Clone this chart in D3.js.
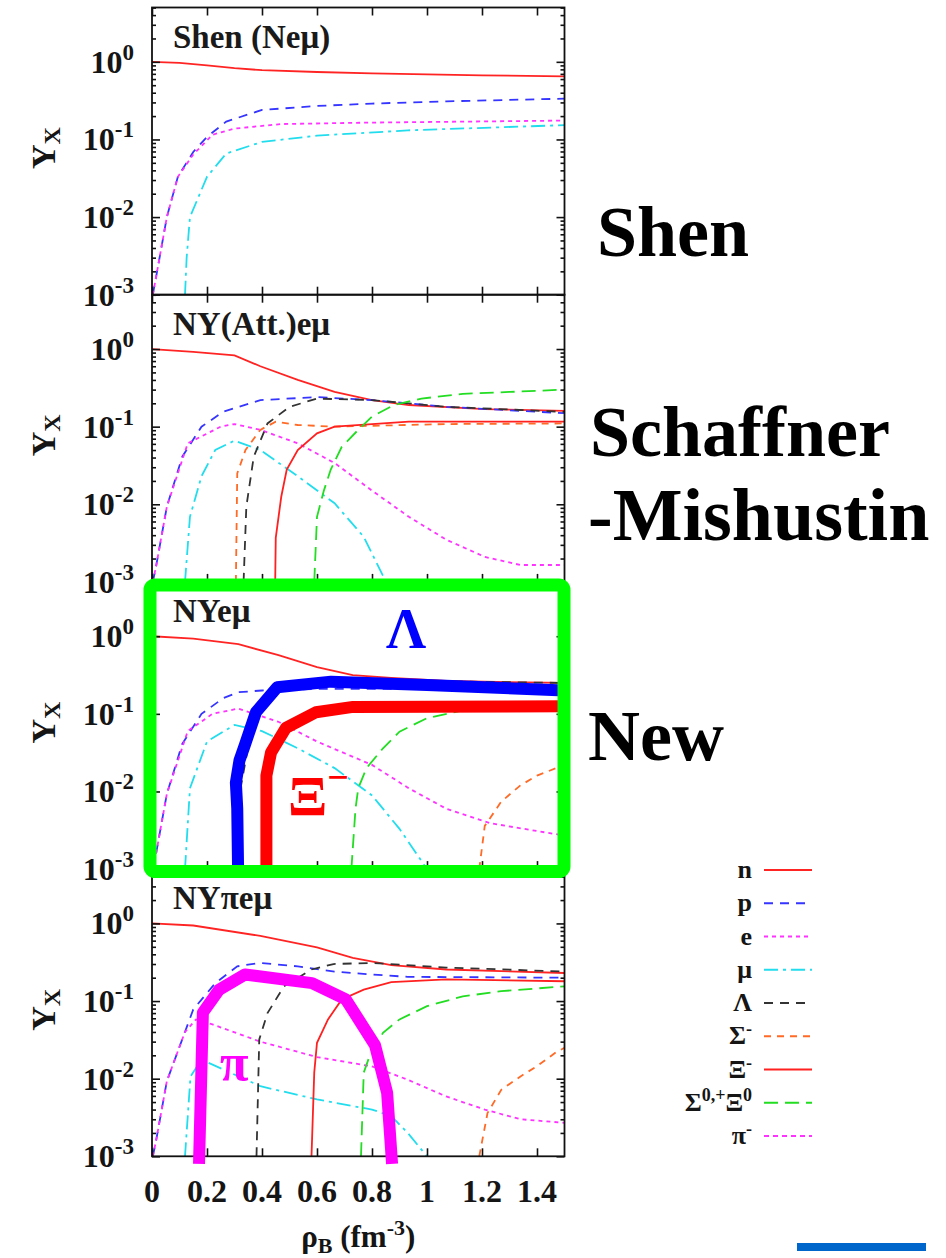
<!DOCTYPE html>
<html><head><meta charset="utf-8">
<script src="https://cdn.jsdelivr.net/npm/d3@7"></script>
<style>
html,body{margin:0;padding:0;background:#fff;}
svg{display:block;font-family:"Liberation Serif","Times New Roman",serif;font-weight:bold;}
</style></head>
<body><svg id="chart" width="946" height="1258"></svg>
<script>
// ---------- data ----------
const xTicks = [0, 0.2, 0.4, 0.6, 0.8, 1, 1.2, 1.4];
const xTickLabels = ["0", "0.2", "0.4", "0.6", "0.8", "1", "1.2", "1.4"];
const yTickExps = [0, -1, -2, -3];
const panelTitles = ["Shen (Neμ)", "NY(Att.)eμ", "NYeμ", "NYπeμ"];
const sideLabels = ["Shen", "Schaffner", "-Mishustin", "New"];
const species = ["n", "p", "e", "μ", "Λ", "Σ-", "Ξ-", "Ξ0", "π-"];

// Panel 1: Shen (Neμ)   pairs [rho_B, Y]
const shen_n  = [[0,1.0],[0.1,0.97],[0.2,0.9],[0.3,0.83],[0.4,0.78],[0.6,0.74],[0.8,0.71],[1.0,0.69],[1.2,0.67],[1.5,0.65]];
const shen_p  = [[0.003,0.001],[0.015,0.0017],[0.054,0.01],[0.094,0.033],[0.15,0.069],[0.2,0.108],[0.27,0.17],[0.4,0.24],[0.6,0.27],[0.8,0.29],[1.07,0.31],[1.5,0.335]];
const shen_e  = [[0.003,0.001],[0.015,0.0017],[0.054,0.01],[0.094,0.033],[0.15,0.064],[0.22,0.115],[0.3,0.138],[0.47,0.158],[0.8,0.165],[1.5,0.175]];
const shen_mu = [[0.12,0.001],[0.126,0.003],[0.138,0.01],[0.2,0.033],[0.27,0.066],[0.4,0.093],[0.6,0.112],[0.93,0.131],[1.5,0.153]];

// Panel 2: NY(Att.)eμ
const att_n   = [[0,1.0],[0.15,0.92],[0.3,0.83],[0.394,0.6],[0.53,0.4],[0.664,0.28],[0.8,0.22],[0.934,0.19],[1.21,0.168],[1.5,0.16]];
const att_p   = [[0.003,0.001],[0.015,0.0016],[0.054,0.0093],[0.11,0.041],[0.18,0.1],[0.26,0.156],[0.394,0.22],[0.6,0.24],[0.8,0.22],[1.07,0.18],[1.5,0.149]];
const att_e   = [[0.003,0.001],[0.015,0.0016],[0.054,0.0093],[0.13,0.061],[0.25,0.1],[0.3,0.108],[0.394,0.091],[0.53,0.061],[0.664,0.034],[0.8,0.015],[0.934,0.0069],[1.07,0.0035],[1.21,0.0021],[1.34,0.00165],[1.5,0.00165]];
const att_mu  = [[0.12,0.001],[0.138,0.0069],[0.18,0.023],[0.23,0.05],[0.3,0.066],[0.394,0.05],[0.53,0.023],[0.664,0.0103],[0.77,0.0038],[0.84,0.0012],[0.85,0.001]];
const att_lam = [[0.333,0.001],[0.343,0.0093],[0.37,0.041],[0.42,0.11],[0.5,0.18],[0.6,0.23],[0.8,0.22],[1.07,0.18],[1.5,0.155]];
const att_sig = [[0.305,0.001],[0.31,0.025],[0.34,0.05],[0.394,0.091],[0.45,0.116],[0.53,0.105],[0.664,0.1],[1.07,0.108],[1.5,0.11]];
const att_xim = [[0.448,0.001],[0.45,0.0037],[0.47,0.0125],[0.49,0.028],[0.53,0.05],[0.6,0.082],[0.664,0.1],[0.8,0.108],[0.934,0.116],[1.5,0.116]];
const att_xi0 = [[0.59,0.001],[0.6,0.0069],[0.625,0.015],[0.65,0.028],[0.69,0.055],[0.75,0.091],[0.8,0.135],[0.88,0.19],[0.98,0.23],[1.13,0.265],[1.3,0.28],[1.5,0.3]];

// Panel 3: NYeμ (new)
const new_n   = [[0,1.0],[0.15,0.93],[0.314,0.79],[0.46,0.57],[0.6,0.4],[0.73,0.316],[0.87,0.29],[1.07,0.265],[1.5,0.25]];
const new_p   = [[0.003,0.001],[0.015,0.0016],[0.054,0.0093],[0.11,0.041],[0.18,0.1],[0.26,0.16],[0.314,0.19],[0.4,0.2],[0.6,0.21],[1.0,0.21],[1.5,0.2]];
const new_e   = [[0.003,0.001],[0.015,0.0016],[0.054,0.0093],[0.13,0.06],[0.22,0.1],[0.314,0.117],[0.46,0.079],[0.6,0.044],[0.8,0.022],[0.934,0.011],[1.07,0.006],[1.23,0.0039],[1.5,0.0027]];
const new_mu  = [[0.12,0.001],[0.138,0.011],[0.2,0.044],[0.3,0.072],[0.4,0.06],[0.53,0.036],[0.664,0.02],[0.8,0.0089],[0.9,0.0033],[1.0,0.001]];
const new_lam = [[0.31,0.001],[0.32,0.01],[0.36,0.06],[0.42,0.18],[0.55,0.26],[0.8,0.27],[1.5,0.25]];
const new_xim = [[0.416,0.001],[0.42,0.016],[0.44,0.032],[0.49,0.066],[0.6,0.105],[0.73,0.12],[1.5,0.123]];
const new_xi0 = [[0.725,0.001],[0.74,0.006],[0.75,0.011],[0.78,0.02],[0.84,0.036],[0.9,0.059],[1.0,0.088],[1.16,0.117],[1.3,0.13],[1.5,0.14]];
const new_sig = [[1.19,0.001],[1.21,0.0036],[1.27,0.0074],[1.34,0.012],[1.4,0.016],[1.47,0.02],[1.5,0.022]];
// highlighted (thick) curves in panel 3
const hl_lam  = [[0.313,0.001],[0.31,0.006],[0.305,0.013],[0.318,0.025],[0.338,0.04],[0.378,0.105],[0.455,0.22],[0.651,0.26],[1.0,0.235],[1.5,0.2]];
const hl_xim  = [[0.416,0.001],[0.416,0.016],[0.433,0.032],[0.487,0.066],[0.596,0.105],[0.731,0.123],[1.5,0.125]];

// Panel 4: NYπeμ
const pi_n    = [[0,1.0],[0.15,0.94],[0.394,0.69],[0.6,0.49],[0.73,0.36],[0.87,0.29],[1.07,0.255],[1.5,0.23]];
const pi_p    = [[0.003,0.001],[0.015,0.0016],[0.054,0.0093],[0.15,0.078],[0.23,0.17],[0.31,0.28],[0.39,0.31],[0.53,0.28],[0.664,0.24],[0.8,0.22],[0.93,0.205],[1.5,0.2]];
const pi_e    = [[0.003,0.001],[0.015,0.0016],[0.054,0.0093],[0.12,0.04],[0.16,0.058],[0.22,0.05],[0.394,0.03],[0.6,0.019],[0.8,0.0144],[0.93,0.0097],[1.07,0.0059],[1.21,0.004],[1.34,0.003],[1.5,0.0027]];
const pi_mu   = [[0.12,0.001],[0.14,0.0107],[0.18,0.0176],[0.394,0.008],[0.6,0.0054],[0.8,0.004],[0.87,0.0033],[0.93,0.002],[1.0,0.001]];
const pi_lam  = [[0.38,0.001],[0.39,0.032],[0.42,0.07],[0.48,0.155],[0.58,0.255],[0.66,0.3],[0.8,0.31],[1.07,0.27],[1.5,0.24]];
const pi_xim  = [[0.58,0.001],[0.59,0.012],[0.6,0.029],[0.64,0.058],[0.69,0.105],[0.77,0.14],[0.87,0.175],[1.07,0.19],[1.5,0.18]];
const pi_xi0  = [[0.76,0.001],[0.77,0.012],[0.79,0.019],[0.84,0.039],[0.9,0.058],[1.0,0.086],[1.13,0.115],[1.27,0.134],[1.5,0.155]];
const pi_sig  = [[1.19,0.001],[1.22,0.0036],[1.27,0.0072],[1.34,0.0107],[1.4,0.0145],[1.47,0.022],[1.5,0.025]];
// highlighted (thick) pion curve in panel 4
const hl_pi   = [[0.171,0.0008],[0.185,0.071],[0.244,0.14],[0.338,0.22],[0.582,0.17],[0.705,0.105],[0.811,0.027],[0.855,0.0066],[0.873,0.0008]];

// ---------- styles ----------
const styleOf = {
  "n":  {c:"#ff2424", d:null},
  "p":  {c:"#3535ff", d:"9,7"},
  "e":  {c:"#ff33ff", d:"4,4"},
  "μ":  {c:"#22dded", d:"14,5,3,5"},
  "Λ":  {c:"#333333", d:"9,7"},
  "Σ-": {c:"#ff6a26", d:"7,6"},
  "Ξ-": {c:"#ff2020", d:null},
  "Ξ0": {c:"#22dd22", d:"14,7"},
  "π-": {c:"#ff33ff", d:"5,4"}
};

const panels = [
  {series:{"n":shen_n,"p":shen_p,"e":shen_e,"μ":shen_mu}},
  {series:{"n":att_n,"p":att_p,"e":att_e,"μ":att_mu,"Λ":att_lam,"Σ-":att_sig,"Ξ-":att_xim,"Ξ0":att_xi0}},
  {series:{"n":new_n,"p":new_p,"e":new_e,"μ":new_mu,"Λ":new_lam,"Σ-":new_sig,"Ξ-":new_xim,"Ξ0":new_xi0}},
  {series:{"n":pi_n,"p":pi_p,"e":pi_e,"μ":pi_mu,"Λ":pi_lam,"Σ-":pi_sig,"Ξ-":pi_xim,"Ξ0":pi_xi0}}
];

// ---------- layout ----------
const svg = d3.select("#chart");
const X0 = 152, X1 = 564.5;
const panelTop0 = 7.5, panelH = 287.2;
const yMax = Math.pow(10, 0.7);
const x = d3.scaleLinear().domain([0, 1.5]).range([X0, X1]);

const minorY = [];
for (let e = -3; e <= 0; e++) for (let k = 2; k <= 9; k++) { const v = k * Math.pow(10, e); if (v <= yMax) minorY.push(v); }
const majorY = yTickExps.map(e => Math.pow(10, e));

const defs = svg.append("defs");

panels.forEach((P, i) => {
  const top = panelTop0 + i * panelH, bot = top + panelH;
  const y = d3.scaleLog().domain([1e-3, yMax]).range([bot, top]);
  P.y = y; P.top = top; P.bot = bot;
  const g = svg.append("g");

  defs.append("clipPath").attr("id", "clip" + i).append("rect")
    .attr("x", X0).attr("y", top).attr("width", X1 - X0).attr("height", panelH);

  // series
  const line = d3.line().x(d => x(d[0])).y(d => y(d[1]));
  const lg = g.append("g").attr("clip-path", `url(#clip${i})`);
  Object.entries(P.series).forEach(([k, data]) => {
    const s = styleOf[k];
    lg.append("path").attr("d", line(data)).attr("fill", "none")
      .attr("stroke", s.c).attr("stroke-width", 1.8)
      .attr("stroke-dasharray", s.d);
  });

  // axes (ticks inward)
  const ax = g.append("g").attr("class", "ax");
  ax.append("g").attr("transform", `translate(0,${bot})`)
    .call(d3.axisBottom(x).tickValues(xTicks).tickSize(-8).tickFormat(""));
  ax.append("g").attr("transform", `translate(0,${top})`)
    .call(d3.axisTop(x).tickValues(xTicks).tickSize(-8).tickFormat(""));
  ax.append("g").attr("transform", `translate(${X0},0)`)
    .call(d3.axisLeft(y).tickValues(majorY).tickSize(-8).tickFormat(""));
  ax.append("g").attr("transform", `translate(${X0},0)`)
    .call(d3.axisLeft(y).tickValues(minorY).tickSize(-4).tickFormat(""));
  ax.append("g").attr("transform", `translate(${X1},0)`)
    .call(d3.axisRight(y).tickValues(majorY).tickSize(-8).tickFormat(""));
  ax.append("g").attr("transform", `translate(${X1},0)`)
    .call(d3.axisRight(y).tickValues(minorY).tickSize(-4).tickFormat(""));
  ax.selectAll(".domain").remove();
  ax.selectAll("line").attr("stroke", "#111").attr("stroke-width", 1.6);

  g.append("rect").attr("x", X0).attr("y", top).attr("width", X1 - X0).attr("height", panelH)
    .attr("fill", "none").attr("stroke", "#111").attr("stroke-width", 1.8);

  // y tick labels 10^n
  yTickExps.forEach(e => {
    const t = g.append("text").attr("x", 134).attr("y", y(Math.pow(10, e)) + 11)
      .attr("text-anchor", "end").attr("font-size", 32).attr("fill", "#151515");
    t.append("tspan").text("10");
    t.append("tspan").attr("font-size", 23).attr("dy", -13).text(e === 0 ? "0" : String(e));
  });

  // y title
  const yt = g.append("text").attr("transform", `translate(55,${(top + bot) / 2 + 18}) rotate(-90)`)
    .attr("font-size", 34).attr("fill", "#151515");
  yt.append("tspan").text("Y");
  yt.append("tspan").attr("font-size", 24).attr("dy", 5).text("X");

  // panel title
  g.append("text").attr("x", 173).attr("y", top + 40).attr("font-size", 33).attr("fill", "#1a1a1a")
    .text(panelTitles[i]);
});

// highlighted thick curves
const P3 = panels[2], P4 = panels[3];
const line3 = d3.line().x(d => x(d[0])).y(d => P3.y(d[1]));
const line4 = d3.line().x(d => x(d[0])).y(d => P4.y(d[1]));
svg.append("path").attr("d", line3(hl_lam)).attr("fill", "none").attr("stroke", "#0000ff")
  .attr("stroke-width", 12).attr("stroke-linejoin", "round");
svg.append("path").attr("d", line3(hl_xim)).attr("fill", "none").attr("stroke", "#ff0000")
  .attr("stroke-width", 12).attr("stroke-linejoin", "round");
svg.append("path").attr("d", line4(hl_pi)).attr("fill", "none").attr("stroke", "#ff00ff")
  .attr("stroke-width", 12).attr("stroke-linejoin", "round");

// annotations on highlighted curves
svg.append("text").attr("x", 406).attr("y", 648).attr("text-anchor", "middle")
  .attr("font-size", 56).attr("fill", "#0000ff").text("Λ");
const xiT = svg.append("text").attr("x", 288).attr("y", 816).attr("font-size", 58).attr("fill", "#ff0000");
xiT.append("tspan").text("Ξ");
xiT.append("tspan").attr("font-size", 38).attr("dy", -26).text("−");
svg.append("text").attr("x", 220).attr("y", 1080).attr("font-size", 52).attr("fill", "#ff00ff").text("π");

// green highlight box
svg.append("rect").attr("x", 150).attr("y", 585).attr("width", 414).attr("height", 286.5)
  .attr("rx", 5).attr("fill", "none").attr("stroke", "#00ff00").attr("stroke-width", 13);

// x tick labels (bottom panel)
const botY = P4.bot;
xTicks.forEach((v, j) => {
  svg.append("text").attr("x", x(v)).attr("y", botY + 46).attr("text-anchor", "middle")
    .attr("font-size", 32).attr("fill", "#151515").text(xTickLabels[j]);
});
// x title
const xt = svg.append("text").attr("x", x(0.75)).attr("y", 1247).attr("text-anchor", "middle")
  .attr("font-size", 31).attr("fill", "#151515");
xt.append("tspan").text("ρ");
xt.append("tspan").attr("font-size", 22).attr("dy", 6).text("B");
xt.append("tspan").attr("dy", -6).text(" (fm");
xt.append("tspan").attr("font-size", 22).attr("dy", -12).text("-3");
xt.append("tspan").attr("dy", 12).text(")");

// side labels
const sidePos = [[597, 256], [590, 456], [588, 540], [588, 760]];
const sideSize = [72, 72, 74, 72];
sideLabels.forEach((s, j) => {
  svg.append("text").attr("x", sidePos[j][0]).attr("y", sidePos[j][1])
    .attr("font-size", sideSize[j]).attr("fill", "#000").text(s);
});

// legend
const legY = d3.scalePoint().domain(species).range([870, 1136]);
const legX0 = 764, legX1 = 812, legLabX = 752;
species.forEach(k => {
  const s = styleOf[k];
  const yy = legY(k);
  svg.append("line").attr("x1", legX0).attr("x2", legX1).attr("y1", yy).attr("y2", yy)
    .attr("stroke", s.c).attr("stroke-width", 2).attr("stroke-dasharray", s.d);
  const t = svg.append("text").attr("x", legLabX).attr("y", yy + 8).attr("text-anchor", "end")
    .attr("font-size", 26).attr("fill", "#151515");
  if (k === "Ξ0") {
    t.append("tspan").text("Σ");
    t.append("tspan").attr("font-size", 18).attr("dy", -10).text("0,+");
    t.append("tspan").attr("dy", 10).text("Ξ");
    t.append("tspan").attr("font-size", 18).attr("dy", -10).text("0");
  } else if (k.length === 2) {
    t.append("tspan").text(k[0]);
    t.append("tspan").attr("font-size", 18).attr("dy", -9).text("-");
  } else {
    t.text(k);
  }
});

// blue bar bottom right
svg.append("rect").attr("x", 797).attr("y", 1243).attr("width", 129).attr("height", 8).attr("fill", "#0066cc");
</script></body></html>
